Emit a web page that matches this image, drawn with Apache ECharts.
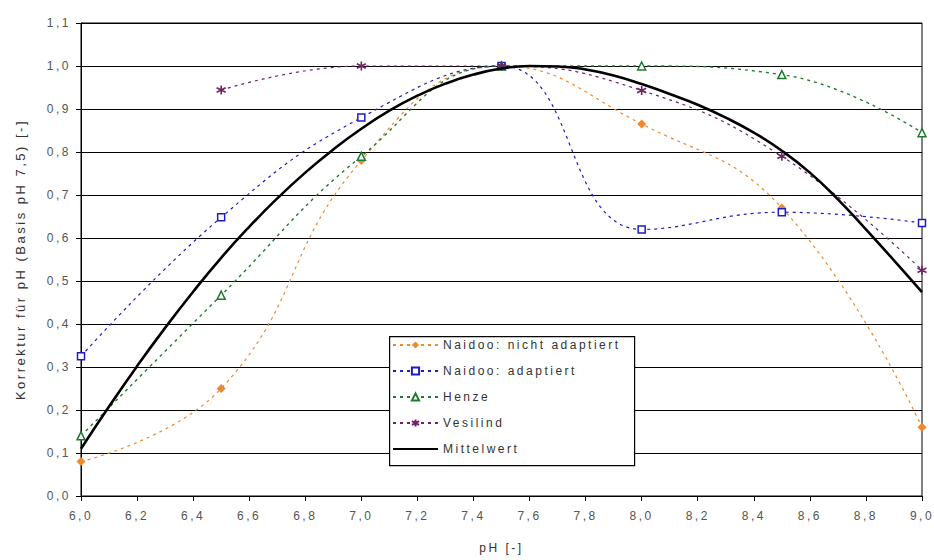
<!DOCTYPE html>
<html lang="de" style="height: 100%">
<head>
  <meta charset="utf-8">
  <style>
    /* Excel-style wide text spacing */
    #container svg text { letter-spacing: 2.5px; }
  </style>
</head>
<body style="height: 100%; margin: 0; background: #fff">
  <div id="container" style="width: 934px; height: 560px"></div>

  <script type="text/javascript" src="https://cdn.jsdelivr.net/npm/echarts@6/dist/echarts.min.js"></script>
  <script type="text/javascript">
    // pH values of the measured series
    var phPoints = [6.0, 6.5, 7.0, 7.5, 8.0, 8.5, 9.0];
    var naidooNicht = [0.08, 0.25, 0.78, 1.0, 0.865, 0.67, 0.16];
    var naidooAdapt = [0.325, 0.648, 0.88, 1.0, 0.62, 0.66, 0.635];
    var henze = [0.14, 0.467, 0.79, 1.0, 1.0, 0.98, 0.845];
    var vesilind = [null, 0.944, 1.0, 1.0, 0.943, 0.79, 0.525];

    // mean curve
    var phMean = [6.0, 6.1, 6.2, 6.3, 6.4, 6.5, 6.6, 6.7, 6.8, 6.9, 7.0, 7.1, 7.2, 7.3, 7.4, 7.5,
      7.6, 7.7, 7.8, 7.9, 8.0, 8.1, 8.2, 8.3, 8.4, 8.5, 8.6, 8.7, 8.8, 8.9, 9.0];
    var mittelwert = [0.11, 0.208, 0.302, 0.391, 0.475, 0.554, 0.626, 0.692, 0.752, 0.806, 0.854,
      0.896, 0.931, 0.959, 0.98, 0.994, 1.0, 0.999, 0.992, 0.978, 0.958, 0.935, 0.91, 0.88, 0.845,
      0.803, 0.752, 0.69, 0.62, 0.548, 0.474];

    var seriesNames = ['Naidoo: nicht adaptiert', 'Naidoo: adaptiert', 'Henze', 'Vesilind', 'Mittelwert'];

    function pairs(xs, ys) {
      return xs.map(function (x, i) { return [x, ys[i]]; });
    }
    function comma(v, digits) {
      return v.toFixed(digits).replace('.', ',');
    }

    var asterisk = 'path://M5,0L5,10M0.7,2.5L9.3,7.5M0.7,7.5L9.3,2.5';
    var font = 'Liberation Sans, Arial, sans-serif';

    var chart = echarts.init(document.getElementById('container'), null, { renderer: 'svg' });

    var option = {
      animation: false,
      backgroundColor: '#fff',
      textStyle: { fontFamily: font },
      grid: {
        left: 81, right: 12, top: 23, bottom: 64,
        show: true, borderColor: '#000', borderWidth: 1
      },
      // legend frame (legend text is wider than ECharts measures)
      graphic: [{
        type: 'rect',
        left: 389, top: 336,
        shape: { width: 245, height: 129 },
        style: { fill: '#fff', stroke: '#000', lineWidth: 1.2 },
        z: 50
      }],
      legend: {
        orient: 'vertical',
        left: 392, top: 339,
        padding: 0,
        itemGap: 14,
        itemWidth: 45, itemHeight: 9,
        z: 60,
        textStyle: { fontFamily: font, fontSize: 12, color: '#333' },
        data: [
          seriesNames[0], seriesNames[1], seriesNames[2], seriesNames[3],
          { name: seriesNames[4], itemStyle: { color: 'rgba(0,0,0,0)', borderColor: 'rgba(0,0,0,0)', borderWidth: 0 } }
        ]
      },
      xAxis: {
        type: 'value',
        min: 6, max: 9, interval: 0.2,
        name: 'pH [-]',
        nameLocation: 'middle',
        nameGap: 46,
        nameTextStyle: { fontFamily: font, fontSize: 12, color: '#333' },
        axisLine: { lineStyle: { color: '#000' } },
        axisTick: { show: true, length: 5, lineStyle: { color: '#000' } },
        axisLabel: {
          color: '#555', fontSize: 12, margin: 14,
          formatter: function (v) { return comma(v, 1); }
        },
        splitLine: { show: false }
      },
      yAxis: {
        type: 'value',
        min: 0, max: 1.1, interval: 0.1,
        name: 'Korrektur für pH (Basis pH 7,5) [-]',
        nameLocation: 'middle',
        nameGap: 54,
        nameTextStyle: { fontFamily: font, fontSize: 13, color: '#333' },
        axisLine: { show: true, lineStyle: { color: '#000' } },
        axisTick: { show: true, length: 5, lineStyle: { color: '#000' } },
        axisLabel: {
          color: '#555', fontSize: 12, margin: 10,
          formatter: function (v) { return comma(v, 1); }
        },
        splitLine: { show: true, lineStyle: { color: '#000', width: 1 } }
      },
      series: [
        {
          name: seriesNames[0],
          type: 'line',
          data: pairs(phPoints, naidooNicht),
          smooth: 0.45,
          symbol: 'diamond', symbolSize: 9,
          lineStyle: { color: '#f0892b', width: 1.2, type: [3, 4] },
          itemStyle: { color: '#f0892b' },
          z: 3
        },
        {
          name: seriesNames[1],
          type: 'line',
          data: pairs(phPoints, naidooAdapt),
          smooth: 0.45,
          symbol: 'rect', symbolSize: 7,
          lineStyle: { color: '#1c1cc4', width: 1.2, type: [3, 4] },
          itemStyle: { color: '#fff', borderColor: '#1c1cc4', borderWidth: 1.5 },
          z: 3
        },
        {
          name: seriesNames[2],
          type: 'line',
          data: pairs(phPoints, henze),
          smooth: 0.45,
          symbol: 'triangle', symbolSize: 8,
          lineStyle: { color: '#1f7a2e', width: 1.4, type: [3, 4] },
          itemStyle: { color: '#fff', borderColor: '#1f7a2e', borderWidth: 1.5 },
          z: 3
        },
        {
          name: seriesNames[3],
          type: 'line',
          data: pairs(phPoints, vesilind),
          smooth: 0.45,
          connectNulls: false,
          symbol: asterisk, symbolSize: 9,
          lineStyle: { color: '#6e2266', width: 1.2, type: [3, 4] },
          itemStyle: { color: '#6e2266', borderColor: '#6e2266', borderWidth: 1.6 },
          z: 3
        },
        {
          name: seriesNames[4],
          type: 'line',
          data: pairs(phMean, mittelwert),
          smooth: 0.5,
          showSymbol: false,
          symbol: 'none',
          lineStyle: { color: '#000', width: 2.6 },
          itemStyle: { color: '#000' },
          z: 4
        }
      ]
    };

    chart.setOption(option);
    window.addEventListener('resize', chart.resize);
  </script>
</body>
</html>
